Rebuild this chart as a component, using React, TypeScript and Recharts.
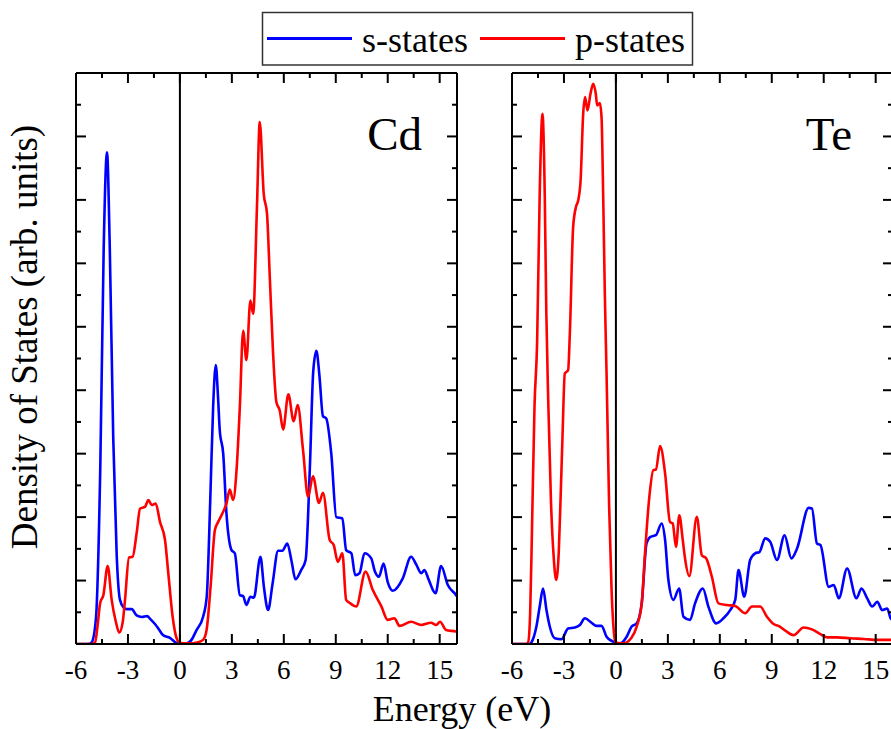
import React from 'react';
import { LineChart, Line, XAxis, YAxis, ReferenceLine } from 'recharts';

// ---------- tick definitions ----------
const energyTicks = [-6, -4.5, -3, -1.5, 0, 1.5, 3, 4.5, 6, 7.5, 9, 10.5, 12, 13.5, 15];
const energyMajorTicks = [-6, -3, 0, 3, 6, 9, 12, 15];
const energyTickLabels = ['-6', '-3', '0', '3', '6', '9', '12', '15'];
const dosTicks = [0, 1, 2, 3, 4, 5, 6, 7, 8, 9, 10, 11, 12, 13, 14, 15, 16, 17, 18];
const energyDomain = [-6, 16];
const dosDomain = [0, 18];

// ---------- Cd data ----------
const cdEnergyS = [-6, -5.3, -5.1, -4.85, -4.6, -4.4, -4.21, -4.05, -3.85, -3.65, -3.46, -3.25, -3.07, -2.78, -2.5, -2.2, -1.9, -1.7, -1.44, -1.2, -0.98, -0.58, -0.2, 0, 0.4, 0.67, 0.96, 1.34, 1.55, 1.75, 1.92, 2.07, 2.2, 2.3, 2.5, 2.69, 2.98, 3.17, 3.46, 3.65, 3.84, 4.07, 4.27, 4.65, 4.85, 5.09, 5.35, 5.67, 5.92, 6.2, 6.45, 6.67, 7.0, 7.26, 7.5, 7.7, 7.88, 8.05, 8.26, 8.45, 8.74, 9.03, 9.38, 9.6, 9.9, 10.12, 10.37, 10.66, 11.05, 11.25, 11.49, 11.76, 12.0, 12.3, 12.87, 13.35, 13.65, 13.93, 14.12, 14.37, 14.76, 15.08, 15.47, 15.95, 16];
const cdDosS = [0, 0, 0.05, 0.8, 5.5, 12.5, 15.5, 12.5, 6.5, 2.8, 1.39, 1.15, 1.1, 1.1, 0.9, 0.85, 0.88, 0.78, 0.63, 0.45, 0.28, 0.19, 0.03, 0, 0.02, 0.13, 0.44, 0.86, 1.5, 4.5, 7.5, 8.79, 7.8, 6.74, 6.0, 4.1, 2.96, 2.86, 1.54, 1.51, 1.23, 1.49, 1.46, 2.75, 1.8, 1.07, 1.9, 2.94, 2.94, 3.17, 2.6, 2.04, 2.33, 2.65, 5.5, 8.6, 9.24, 8.5, 7.18, 7.11, 6.0, 4.0, 3.96, 2.96, 2.86, 2.17, 2.23, 2.86, 2.7, 2.3, 2.12, 2.54, 1.95, 1.68, 2.07, 2.75, 2.5, 2.23, 2.33, 2.02, 1.6, 2.46, 1.86, 1.54, 1.5];

const cdEnergyP = [-6, -5.1, -4.9, -4.75, -4.61, -4.42, -4.17, -3.94, -3.7, -3.5, -3.3, -3.17, -2.94, -2.73, -2.5, -2.3, -2.02, -1.82, -1.63, -1.4, -1.15, -0.86, -0.67, -0.42, -0.19, 0, 0.5, 1.0, 1.34, 1.54, 1.77, 2.02, 2.21, 2.5, 2.69, 2.88, 3.07, 3.27, 3.46, 3.65, 3.84, 4.07, 4.23, 4.45, 4.61, 4.84, 5.03, 5.19, 5.38, 5.57, 5.76, 5.96, 6.26, 6.57, 6.8, 7.11, 7.4, 7.68, 8.03, 8.26, 8.65, 8.88, 9.12, 9.38, 9.6, 9.84, 10.18, 10.72, 11.14, 11.62, 12.0, 12.39, 12.68, 13.35, 13.93, 14.5, 14.8, 15.02, 15.37, 15.95, 16];
const cdDosP = [0, 0, 0.05, 0.6, 1.28, 1.54, 2.46, 1.39, 0.7, 0.36, 0.7, 1.39, 2.73, 2.75, 3.49, 4.27, 4.32, 4.54, 4.38, 4.43, 3.85, 3.28, 2.23, 0.86, 0.18, 0.03, 0.02, 0.05, 0.13, 0.44, 1.8, 3.59, 3.85, 4.17, 4.43, 4.87, 4.54, 5.48, 7.47, 9.87, 8.95, 10.83, 10.41, 13.8, 16.45, 14.19, 13.56, 11.57, 9.16, 7.63, 7.37, 6.76, 7.87, 7.02, 7.53, 6.11, 4.64, 5.29, 4.45, 4.77, 3.28, 3.12, 2.59, 2.86, 1.39, 1.28, 1.18, 2.28, 1.7, 1.2, 0.76, 0.81, 0.57, 0.7, 0.6, 0.67, 0.6, 0.7, 0.44, 0.39, 0.38];

// ---------- Te data ----------
const teEnergyS = [-6, -5.0, -4.88, -4.59, -4.4, -4.21, -4.01, -3.82, -3.53, -3.14, -2.76, -2.37, -2.08, -1.79, -1.41, -1.12, -0.83, -0.54, -0.15, 0, 0.3, 0.62, 0.91, 1.2, 1.49, 1.77, 2.0, 2.31, 2.64, 2.84, 3.03, 3.32, 3.65, 3.9, 4.28, 4.57, 5.02, 5.34, 5.79, 6.21, 6.6, 6.89, 7.08, 7.41, 7.75, 8.04, 8.29, 8.62, 8.91, 9.3, 9.74, 10.13, 10.46, 11.13, 11.32, 11.61, 11.81, 12.29, 12.58, 12.87, 13.35, 13.89, 14.18, 14.51, 14.8, 15.09, 15.38, 15.67, 15.86, 16];
const teDosS = [0, 0, 0.05, 0.55, 1.18, 1.75, 1.07, 0.55, 0.18, 0.15, 0.49, 0.52, 0.6, 0.81, 0.67, 0.57, 0.57, 0.23, 0.07, 0.02, 0.03, 0.23, 0.55, 0.65, 1.28, 3.17, 3.38, 3.43, 3.8, 3.28, 2.02, 1.39, 1.75, 0.86, 0.76, 1.28, 1.75, 1.18, 0.65, 0.81, 1.07, 1.39, 2.33, 1.49, 2.65, 2.86, 2.9, 3.33, 3.22, 2.65, 3.43, 2.7, 3.01, 4.29, 4.27, 3.17, 3.12, 1.8, 1.86, 1.44, 2.38, 1.44, 1.75, 1.44, 1.18, 1.33, 1.07, 1.12, 0.81, 0.75];

const teEnergyP = [-6, -5.2, -5.07, -4.95, -4.85, -4.7, -4.55, -4.4, -4.24, -4.11, -4.02, -3.9, -3.75, -3.6, -3.45, -3.3, -3.2, -3.09, -2.95, -2.76, -2.66, -2.47, -2.31, -2.18, -2.04, -1.89, -1.78, -1.64, -1.47, -1.31, -1.16, -1.08, -0.93, -0.83, -0.73, -0.64, -0.54, -0.39, -0.25, -0.06, 0, 0.42, 0.9, 1.2, 1.49, 1.68, 1.93, 2.16, 2.31, 2.55, 2.84, 3.12, 3.28, 3.47, 3.66, 3.86, 3.99, 4.24, 4.67, 4.96, 5.21, 5.54, 5.92, 6.4, 6.89, 7.47, 7.85, 8.33, 8.72, 9.1, 9.39, 9.78, 10.26, 10.84, 11.32, 11.81, 12.19, 12.77, 13.54, 14.31, 15.09, 16];
const teDosP = [0, 0, 0.05, 1.0, 3.5, 7.5, 9.5, 14.2, 16.71, 14.2, 10.5, 7.5, 4.5, 2.8, 2.02, 2.9, 4.5, 6.43, 8.53, 8.63, 9.79, 13.14, 13.77, 13.98, 14.61, 16.71, 17.24, 16.82, 17.34, 17.66, 17.34, 16.98, 17.05, 16.61, 13.98, 11.05, 8.53, 4.32, 1.7, 0.13, 0.05, 0.02, 0.2, 0.55, 1.28, 2.86, 4.64, 5.48, 5.5, 6.24, 5.38, 3.85, 3.8, 3.06, 4.06, 3.28, 2.7, 2.14, 4.01, 2.8, 2.7, 2.12, 1.28, 1.23, 1.2, 0.97, 1.18, 1.18, 0.86, 0.63, 0.57, 0.42, 0.28, 0.52, 0.46, 0.31, 0.21, 0.21, 0.18, 0.16, 0.13, 0.13];

const seriesNames = ['s-states', 'p-states'];
const seriesColors = ['#0000ff', '#ff0000'];
const panelNames = ['Cd', 'Te'];

const zip = (es: number[], vs: number[]) => es.map((e, i) => ({ e, dos: vs[i] }));

const SERIF = { fontFamily: "'Liberation Serif', 'Times New Roman', Times, serif" };
const AXIS = { stroke: '#000', strokeWidth: 2 };

const isMajorE = (v: number) => energyMajorTicks.indexOf(v) >= 0;

const BottomTick = (props: any) => {
  const { x, y, payload } = props;
  const v = payload.value;
  const major = isMajorE(v);
  const idx = energyMajorTicks.indexOf(v);
  return (
    <g>
      <line x1={x} x2={x} y1={y} y2={y - (major ? 10 : 5)} stroke="#000" strokeWidth={2} />
      {major && (
        <text x={x} y={y + 35} textAnchor="middle" style={SERIF} fontSize={27} fill="#000">
          {energyTickLabels[idx]}
        </text>
      )}
    </g>
  );
};

const TopTick = (props: any) => {
  const { x, y, payload } = props;
  const major = isMajorE(payload.value);
  return <line x1={x} x2={x} y1={y} y2={y + (major ? 10 : 5)} stroke="#000" strokeWidth={2} />;
};

const LeftTick = (props: any) => {
  const { x, y, payload } = props;
  const major = payload.value % 2 === 0;
  return <line x1={x} x2={x + (major ? 10 : 5)} y1={y} y2={y} stroke="#000" strokeWidth={2} />;
};

const RightTick = (props: any) => {
  const { x, y, payload } = props;
  const major = payload.value % 2 === 0;
  return <line x1={x} x2={x - (major ? 10 : 5)} y1={y} y2={y} stroke="#000" strokeWidth={2} />;
};

type PanelProps = {
  left: number;
  width: number;
  margin: { top: number; right: number; bottom: number; left: number };
  sData: { e: number; dos: number }[];
  pData: { e: number; dos: number }[];
};

const Panel = ({ left, width, margin, sData, pData }: PanelProps) => (
  <div style={{ position: 'absolute', left, top: 0 }}>
    <LineChart width={width} height={729} margin={margin}>
      <XAxis
        xAxisId="b"
        orientation="bottom"
        type="number"
        dataKey="e"
        domain={energyDomain}
        allowDataOverflow
        ticks={energyTicks}
        interval={0}
        height={1}
        tickSize={0}
        tickMargin={0}
        tickLine={false}
        axisLine={AXIS}
        tick={(p: any) => <BottomTick {...p} />}
      />
      <XAxis
        xAxisId="t"
        orientation="top"
        type="number"
        dataKey="e"
        domain={energyDomain}
        allowDataOverflow
        ticks={energyTicks}
        interval={0}
        height={1}
        tickSize={0}
        tickMargin={0}
        tickLine={false}
        axisLine={AXIS}
        tick={(p: any) => <TopTick {...p} />}
      />
      <YAxis
        yAxisId="l"
        orientation="left"
        type="number"
        domain={dosDomain}
        allowDataOverflow
        ticks={dosTicks}
        interval={0}
        width={1}
        tickSize={0}
        tickMargin={0}
        tickLine={false}
        axisLine={AXIS}
        tick={(p: any) => <LeftTick {...p} />}
      />
      <YAxis
        yAxisId="r"
        orientation="right"
        type="number"
        domain={dosDomain}
        allowDataOverflow
        ticks={dosTicks}
        interval={0}
        width={1}
        tickSize={0}
        tickMargin={0}
        tickLine={false}
        axisLine={AXIS}
        tick={(p: any) => <RightTick {...p} />}
      />
      <ReferenceLine xAxisId="b" yAxisId="l" x={0} stroke="#000" strokeWidth={2} />
      <Line
        xAxisId="b"
        yAxisId="l"
        data={sData}
        dataKey="dos"
        name={seriesNames[0]}
        type="monotone"
        stroke={seriesColors[0]}
        strokeWidth={2.6}
        dot={false}
        activeDot={false}
        isAnimationActive={false}
      />
      <Line
        xAxisId="t"
        yAxisId="r"
        data={pData}
        dataKey="dos"
        name={seriesNames[1]}
        type="monotone"
        stroke={seriesColors[1]}
        strokeWidth={2.6}
        dot={false}
        activeDot={false}
        isAnimationActive={false}
      />
    </LineChart>
  </div>
);

export default function App() {
  return (
    <div
      style={{
        position: 'absolute',
        left: 0,
        top: 0,
        width: 891,
        height: 729,
        overflow: 'hidden',
        background: '#fff',
      }}
    >
      <Panel
        left={0}
        width={480}
        margin={{ top: 72, right: 22, bottom: 84, left: 75 }}
        sData={zip(cdEnergyS, cdDosS)}
        pData={zip(cdEnergyP, cdDosP)}
      />
      <Panel
        left={440}
        width={460}
        margin={{ top: 72, right: 6, bottom: 84, left: 71 }}
        sData={zip(teEnergyS, teDosS)}
        pData={zip(teEnergyP, teDosP)}
      />
      <svg
        width={891}
        height={729}
        style={{ position: 'absolute', left: 0, top: 0, pointerEvents: 'none' }}
      >
        <text x={422} y={150} textAnchor="end" style={SERIF} fontSize={47} fill="#000">
          {panelNames[0]}
        </text>
        <text x={852} y={150} textAnchor="end" style={SERIF} fontSize={47} fill="#000">
          {panelNames[1]}
        </text>
        <text
          x={37}
          y={337}
          transform="rotate(-90 37 337)"
          textAnchor="middle"
          style={SERIF}
          fontSize={37}
          fill="#000"
        >
          Density of States (arb. units)
        </text>
        <text x={462} y={721} textAnchor="middle" style={SERIF} fontSize={36} fill="#000">
          Energy (eV)
        </text>
        <rect x={262.5} y={12.5} width={430} height={52.5} fill="#fff" stroke="#333" strokeWidth={1.5} />
        <line x1={267} x2={352} y1={38.5} y2={38.5} stroke={seriesColors[0]} strokeWidth={3} />
        <text x={362} y={52} style={SERIF} fontSize={36} fill="#000">
          {seriesNames[0]}
        </text>
        <line x1={480} x2={565} y1={38.5} y2={38.5} stroke={seriesColors[1]} strokeWidth={3} />
        <text x={575} y={52} style={SERIF} fontSize={36} fill="#000">
          {seriesNames[1]}
        </text>
      </svg>
    </div>
  );
}
